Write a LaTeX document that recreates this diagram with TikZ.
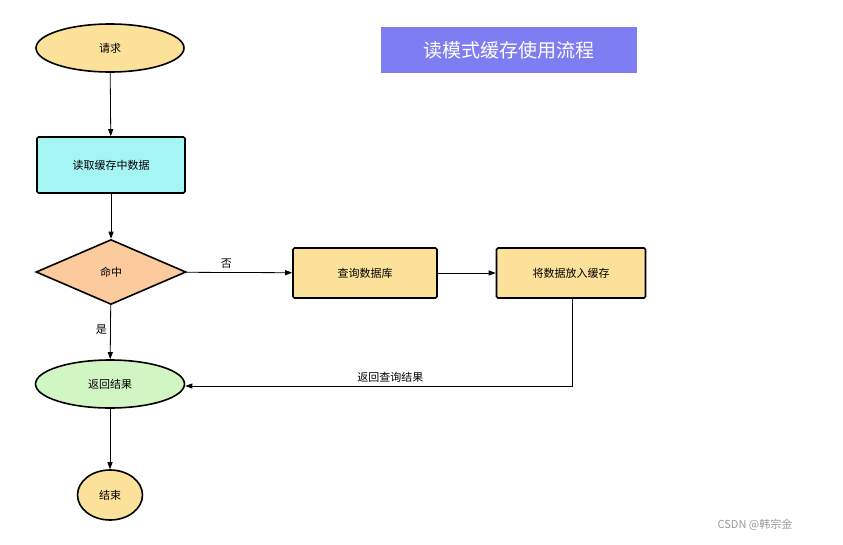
\documentclass[tikz,border=0pt]{standalone}
\usepackage{fontspec}
\setmainfont{Noto Sans CJK SC}
\usetikzlibrary{shapes.geometric,arrows.meta}
\definecolor{orangeF}{HTML}{FCE19A}
\definecolor{cyanF}{HTML}{A6F5F5}
\definecolor{peachF}{HTML}{FBCB9E}
\definecolor{greenF}{HTML}{D2F5C4}
\definecolor{titleF}{HTML}{7E7EF2}
\begin{document}
\begin{tikzpicture}[x=1pt,y=-1pt,
  base/.style={draw=black,line width=1.6pt,font=\fontsize{11}{13}\selectfont,inner sep=0pt},
  term/.style={base,ellipse,minimum width=148pt,minimum height=48pt},
  proc/.style={base,rectangle,rounded corners=1.5pt,minimum width=148pt,minimum height=52pt},
  dec/.style={base,diamond,aspect=2.3,minimum width=150pt,minimum height=65pt},
  arr/.style={-{Triangle[length=7pt,width=5pt]},line width=0.8pt},
  lab/.style={font=\fontsize{11}{13}\selectfont}]
\useasboundingbox (0,0) rectangle (843,544);
\fill[white] (0,0) rectangle (843,544);
\node[term,fill=orangeF] (req) at (110,48) {请求};
\node[proc,fill=cyanF,minimum height=56pt] (read) at (111,165) {读取缓存中数据};
\node[dec,fill=peachF] (hit) at (111,272) {命中};
\node[proc,fill=orangeF,minimum width=144pt,minimum height=50pt] (db) at (365,273) {查询数据库};
\node[proc,fill=orangeF,minimum width=149pt,minimum height=50pt] (put) at (571,273) {将数据放入缓存};
\node[term,fill=greenF,minimum width=149pt] (ret) at (110,384) {返回结果};
\node[base,circle,fill=orangeF,minimum size=50pt,ellipse,minimum width=65pt] (end) at (110,495) {结束};
\node[fill=titleF,text=white,minimum width=256pt,minimum height=46pt,inner sep=0pt,font=\fontsize{19}{22}\selectfont] (title) at (509,50) {读模式缓存使用流程};
\coordinate (corner) at (572,386);
\draw[arr] (req) -- (read);
\draw[arr] (read) -- (hit);
\draw[arr] (hit) -- node[lab,above,pos=0.38] {否} (db);
\draw[arr] (db) -- (put);
\draw[arr] (hit) -- node[lab,left,pos=0.45] {是} (ret);
\draw[arr] (ret) -- (end);
\draw[arr] (put.south -| corner) -- (corner) -- node[lab,above,pos=0.47] {返回查询结果} (ret.east |- corner);
\node[text=gray!80,font=\fontsize{11}{13}\selectfont] (wm) at (755,525) {CSDN @韩宗金};
\end{tikzpicture}
\end{document}
